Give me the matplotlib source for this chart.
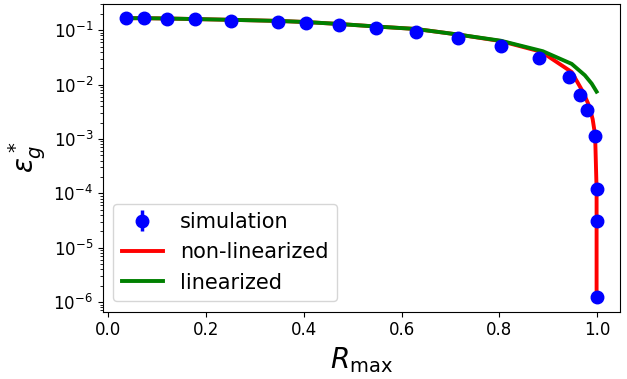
import matplotlib
matplotlib.use('Agg')
import matplotlib.pyplot as plt
import numpy as np

# simulation points
r_sim = [0.037, 0.074, 0.120, 0.177, 0.251, 0.347, 0.405, 0.472, 0.547, 0.630,
         0.716, 0.803, 0.881, 0.942, 0.966, 0.979, 0.996, 0.999, 0.999, 0.999]
eps_sim = [0.166, 0.166, 0.163, 0.158, 0.150, 0.144, 0.136, 0.123, 0.109, 0.093,
           0.072, 0.051, 0.031, 0.0135, 0.0064, 0.0034, 0.00115, 1.18e-4, 3.1e-5, 1.26e-6]
err_sim = [0.003, 0.003, 0.003, 0.003, 0.003, 0.003, 0.003, 0.002, 0.002, 0.002,
           0.002, 0.001, 0.001, 0.0005, 0.0002, 0.0001, 3e-5, 3e-6, 1e-6, 5e-8]

# non-linearized theory
r_nl = [0.037, 0.074, 0.120, 0.177, 0.251, 0.347, 0.405, 0.472, 0.547, 0.630,
        0.716, 0.803, 0.886, 0.948, 0.972, 0.984, 0.991, 0.996, 0.999, 0.999, 0.999]
eps_nl = [0.166, 0.166, 0.164, 0.160, 0.155, 0.148, 0.141, 0.130, 0.117, 0.105,
          0.083, 0.063, 0.040, 0.017, 0.0071, 0.0040, 0.0023, 0.00117, 1.18e-4, 3.1e-5, 1.26e-6]

# linearized theory
r_lin = [0.037, 0.074, 0.120, 0.177, 0.251, 0.347, 0.405, 0.472, 0.547, 0.630,
         0.716, 0.803, 0.889, 0.948, 0.975, 0.989, 0.999]
eps_lin = [0.166, 0.166, 0.164, 0.160, 0.155, 0.148, 0.141, 0.130, 0.117, 0.105,
           0.083, 0.064, 0.041, 0.024, 0.0148, 0.0104, 0.0074]

fig, ax = plt.subplots(figsize=(6.27, 3.79), dpi=100)
fig.subplots_adjust(left=0.164, right=0.989, top=0.99, bottom=0.178)

h_sim = ax.errorbar(r_sim, eps_sim, yerr=err_sim, fmt='o', color='blue', ms=9, lw=2.5,
                    label='simulation', zorder=3)
h_nl, = ax.plot(r_nl, eps_nl, color='red', lw=2.8, label='non-linearized')
h_lin, = ax.plot(r_lin, eps_lin, color='green', lw=2.8, label='linearized')

ax.set_yscale('log')
ax.set_xlabel(r'$R_{\max}$', fontsize=20)
ax.set_ylabel(r'$\varepsilon_g^*$', fontsize=20)
ax.tick_params(labelsize=12)
ax.legend(handles=[h_sim, h_nl, h_lin], loc='lower left', fontsize=15)

fig.savefig('out.png', dpi=100)
